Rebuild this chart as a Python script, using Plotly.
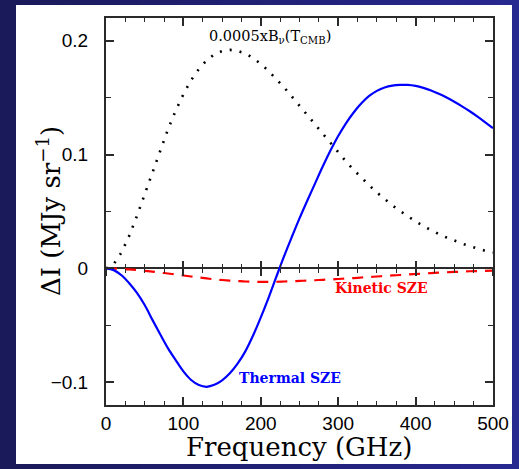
import plotly.graph_objects as go

# ---- data (GHz, MJy/sr) ----
freq = list(range(0, 501, 10))
thermal = [0.0, -0.0015, -0.0060, -0.0130, -0.0215, -0.0322, -0.0452, -0.0578, -0.0700, -0.0805,
           -0.0905, -0.0980, -0.1025, -0.1040, -0.1023, -0.0984, -0.0922, -0.0837, -0.0729, -0.0590,
           -0.0430, -0.0258, -0.0075, 0.0105, 0.0275, 0.0440, 0.0595, 0.0745, 0.0895, 0.1035,
           0.1163, 0.1275, 0.1370, 0.1450, 0.1515, 0.1560, 0.1590, 0.1606, 0.1612, 0.1612,
           0.1603, 0.1586, 0.1563, 0.1534, 0.1501, 0.1464, 0.1424, 0.1381, 0.1334, 0.1284, 0.1232]
kinetic = [0.0, -0.0001, -0.0004, -0.0008, -0.0014, -0.0021, -0.0028, -0.0036, -0.0045, -0.0053,
           -0.0062, -0.0071, -0.0080, -0.0088, -0.0096, -0.0102, -0.0107, -0.0111, -0.0115, -0.0117,
           -0.0118, -0.0118, -0.0117, -0.0115, -0.0113, -0.0110, -0.0107, -0.0104, -0.0100, -0.0097,
           -0.0093, -0.0089, -0.0085, -0.0080, -0.0076, -0.0071, -0.0067, -0.0062, -0.0058, -0.0053,
           -0.0049, -0.0045, -0.0041, -0.0037, -0.0034, -0.0031, -0.0028, -0.0025, -0.0023, -0.0021, -0.0019]
planck = [0.0, 0.0038, 0.0140, 0.0286, 0.0461, 0.0653, 0.0849, 0.1041, 0.1221, 0.1386,
          0.1530, 0.1654, 0.1752, 0.1828, 0.1880, 0.1910, 0.1920, 0.1911, 0.1888, 0.1848,
          0.1797, 0.1735, 0.1666, 0.1591, 0.1511, 0.1429, 0.1347, 0.1261, 0.1178, 0.1096,
          0.1017, 0.0940, 0.0866, 0.0796, 0.0731, 0.0667, 0.0609, 0.0553, 0.0504, 0.0455,
          0.0413, 0.0372, 0.0336, 0.0302, 0.0272, 0.0243, 0.0218, 0.0195, 0.0174, 0.0155, 0.0140]
x_ticks = [0, 100, 200, 300, 400, 500]
y_ticks = [-0.1, 0, 0.1, 0.2]
y_ticktext = ["\u22120.1", "0", "0.1", "0.2"]
x_range = [0, 500]
y_range = [-0.12, 0.22]

W, H = 519, 469
pl, pr, pt, pb = 106, 493, 18, 405

fig = go.Figure()
fig.add_trace(go.Scatter(x=freq, y=planck, mode="lines",
                         line=dict(color="black", width=2.6, dash="2px,8px"),
                         hoverinfo="skip", showlegend=False))
fig.add_trace(go.Scatter(x=freq, y=kinetic, mode="lines", line_shape="spline",
                         line=dict(color="#ff0000", width=2.2, dash="11px,8px"),
                         hoverinfo="skip", showlegend=False))
fig.add_trace(go.Scatter(x=freq, y=thermal, mode="lines", line_shape="spline",
                         line=dict(color="#0000ff", width=2.2),
                         hoverinfo="skip", showlegend=False))
# empty traces so the zero-line tick axes get drawn
fig.add_trace(go.Scatter(x=[], y=[], xaxis="x2", yaxis="y", showlegend=False))
fig.add_trace(go.Scatter(x=[], y=[], xaxis="x3", yaxis="y", showlegend=False))

zero_pos = (0 - y_range[0]) / (y_range[1] - y_range[0])

axcol = "#2a2a2a"
tickfont = dict(family="Liberation Sans, Arial", size=19, color="black")
fig.update_layout(
    width=W, height=H,
    margin=dict(l=pl, r=W - pr, t=pt, b=H - pb, autoexpand=False),
    paper_bgcolor="#22227a",
    plot_bgcolor="white",
    xaxis=dict(range=x_range, tickvals=x_ticks, ticks="inside", ticklen=8, tickwidth=1.5,
               tickcolor=axcol, showline=True, linecolor=axcol, linewidth=2, mirror="ticks",
               showgrid=False, zeroline=False, automargin=False,
               minor=dict(dtick=25, ticks="inside", ticklen=4, tickwidth=1.2, tickcolor=axcol, showgrid=False),
               tickfont=tickfont, ticklabelstandoff=0),
    yaxis=dict(range=y_range, tickvals=y_ticks, ticktext=y_ticktext, ticks="inside", ticklen=8,
               tickwidth=1.5, tickcolor=axcol, showline=True, linecolor=axcol, linewidth=2,
               mirror="ticks", showgrid=False, zeroline=True, zerolinecolor=axcol, zerolinewidth=2,
               automargin=False,
               minor=dict(dtick=0.05, ticks="inside", ticklen=5, tickwidth=1.2, tickcolor=axcol, showgrid=False),
               tickfont=tickfont, ticklabelstandoff=12),
    xaxis2=dict(overlaying="x", anchor="free", position=zero_pos, range=x_range, side="bottom",
                tickvals=x_ticks, ticks="outside", ticklen=7, tickwidth=1.5, tickcolor=axcol,
                showticklabels=False, showline=False, showgrid=False, zeroline=False,
                minor=dict(dtick=25, ticks="outside", ticklen=4, tickwidth=1.2, tickcolor=axcol, showgrid=False)),
    xaxis3=dict(overlaying="x", anchor="free", position=zero_pos, range=x_range, side="bottom",
                tickvals=x_ticks, ticks="inside", ticklen=7, tickwidth=1.5, tickcolor=axcol,
                showticklabels=False, showline=False, showgrid=False, zeroline=False,
                minor=dict(dtick=25, ticks="inside", ticklen=4, tickwidth=1.2, tickcolor=axcol, showgrid=False)),
)

def px_x(px):
    return (px - pl) / (pr - pl)
def px_y(py):
    return (pb - py) / (pb - pt)

# background: blue gradient strips and white panel
n = 26
c0 = (26, 26, 90)
c1 = (40, 40, 145)
for i in range(n):
    t = i / (n - 1)
    col = "rgb(%d,%d,%d)" % tuple(int(a + (b - a) * t) for a, b in zip(c0, c1))
    fig.add_shape(type="rect", xref="paper", yref="paper", layer="below",
                  x0=px_x(W * i / n), x1=px_x(W * (i + 1) / n + 1),
                  y0=px_y(H), y1=px_y(0), fillcolor=col, line_width=0)
fig.add_shape(type="rect", xref="paper", yref="paper", layer="below",
              x0=px_x(16), x1=px_x(512), y0=px_y(464), y1=px_y(5),
              fillcolor="white", line_width=0)

serif = "DejaVu Serif"
# axis titles
fig.add_annotation(xref="paper", yref="paper", x=px_x(299), y=px_y(447), text="Frequency (GHz)",
                   xanchor="center", yanchor="middle",
                   showarrow=False, font=dict(family=serif, size=26, color="black"))
fig.add_annotation(xref="paper", yref="paper", x=px_x(49), y=px_y(211),
                   xanchor="center", yanchor="middle",
                   text="\u0394I (MJy sr<sup>\u22121</sup>)", textangle=-90,
                   showarrow=False, font=dict(family=serif, size=26, color="black"))
# curve labels
fig.add_annotation(x=212, y=0.2035, text="0.0005xB<sub>\u03bd</sub>(T<sub>CMB</sub>)", showarrow=False,
                   font=dict(family=serif, size=14.5, color="black"))
fig.add_annotation(x=356, y=-0.0176, text="<b>Kinetic SZE</b>", showarrow=False,
                   font=dict(family=serif, size=14, color="#ff0000"))
fig.add_annotation(x=238, y=-0.096, text="<b>Thermal SZE</b>", showarrow=False,
                   font=dict(family=serif, size=14, color="#0000ff"))

fig.write_html("out.html", config={"displayModeBar": False},
               post_script="document.body.style.margin='0';")
